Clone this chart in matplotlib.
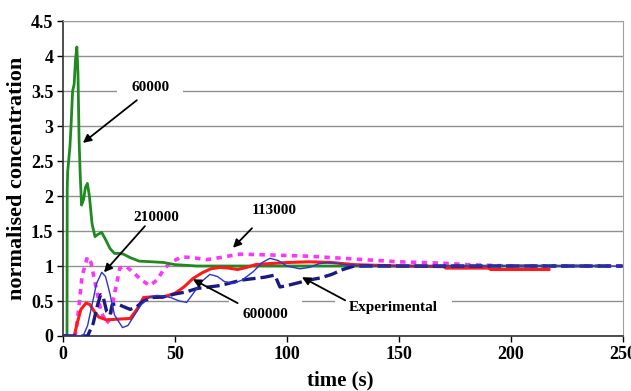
import matplotlib
matplotlib.use("Agg")
import matplotlib.pyplot as plt

plt.rcParams['font.family'] = ['Liberation Serif', 'DejaVu Serif']
plt.rcParams['font.weight'] = 'bold'

# ---- data ----
t_60000 = [0, 1.8, 1.9, 2.1, 3.1, 3.6, 4.3, 5.0, 5.6, 6.2, 6.7, 7.2, 7.7, 8.3, 9.2, 10.0, 10.9,
           11.8, 13.0, 14.3, 15.5, 17.3, 19.0, 21.0, 23.0, 25.0, 27.0, 30.0, 34.0, 40.0, 45.0,
           50.0, 60.0, 80, 100, 150, 200, 243]
c_60000 = [0, 0, 2.1, 2.35, 2.7, 3.0, 3.5, 3.6, 3.95, 4.13, 3.75, 2.8, 2.3, 1.87, 1.95, 2.12, 2.18,
           2.0, 1.6, 1.42, 1.45, 1.48, 1.38, 1.25, 1.18, 1.18, 1.17, 1.12, 1.07, 1.06, 1.05,
           1.02, 1.0, 1.0, 1.0, 1.0, 1.0, 1.0]

t_600000 = [0, 5, 6.5, 8, 10.3, 12, 14, 16, 19.5, 24, 30, 33, 36, 40, 44, 50, 54, 58, 62, 66,
            70, 74, 78, 82, 86, 90, 100, 110, 120, 130, 150, 170, 171, 190, 191, 217]
c_600000 = [0, 0, 0.2, 0.38, 0.47, 0.45, 0.35, 0.27, 0.23, 0.24, 0.25, 0.38, 0.55, 0.56, 0.55,
            0.61, 0.7, 0.82, 0.9, 0.96, 0.98, 0.97, 0.95, 0.98, 1.02, 1.03, 1.05, 1.06, 1.05,
            1.02, 1.0, 0.99, 0.97, 0.97, 0.95, 0.95]

t_210000 = [0, 9, 11, 13, 15, 17.3, 19, 21, 23, 26.6, 29, 32, 35, 38.8, 42, 45, 48, 52, 55.2,
            58, 62, 65.6, 69, 72, 76, 80, 85, 89, 92.4, 96, 100, 105.8, 110, 114, 118, 122,
            126, 135, 150, 200, 250]
c_210000 = [0, 0, 0.15, 0.45, 0.75, 0.91, 0.85, 0.6, 0.3, 0.12, 0.15, 0.3, 0.45, 0.56, 0.58,
            0.57, 0.55, 0.5, 0.48, 0.6, 0.78, 0.88, 0.85, 0.78, 0.75, 0.8, 0.92, 1.05, 1.11,
            1.08, 1.0, 0.96, 0.98, 1.03, 1.05, 1.04, 1.02, 1.0, 1.0, 1.0, 1.0]

t_113000 = [0, 5.5, 6.8, 8.5, 10.9, 12.5, 15, 17, 19.5, 21, 23, 25.4, 28, 31, 35, 38.8, 42, 45,
            48, 53, 58, 64, 70, 79, 90, 100, 110, 120, 130, 140, 150, 160, 170, 180, 200, 250]
c_113000 = [0, 0, 0.32, 0.85, 1.13, 1.05, 0.66, 0.35, 0.18, 0.25, 0.6, 0.97, 1.0, 0.92, 0.8,
            0.72, 0.8, 0.95, 1.05, 1.13, 1.12, 1.09, 1.12, 1.17, 1.16, 1.15, 1.14, 1.12, 1.10,
            1.08, 1.06, 1.05, 1.04, 1.02, 1.0, 1.0]

t_exp = [0, 11, 13.5, 15.5, 16.8, 18, 19.5, 21, 22, 24, 27, 30, 33, 36, 40, 45, 50, 55, 60,
         65, 70, 75, 80, 85, 90, 94.6, 96.9, 100, 105, 110, 115, 120, 125, 130, 150, 200, 250]
c_exp = [0, 0, 0.18, 0.45, 0.59, 0.55, 0.35, 0.3, 0.45, 0.46, 0.42, 0.38, 0.42, 0.5, 0.55,
         0.56, 0.6, 0.63, 0.68, 0.70, 0.72, 0.76, 0.8, 0.82, 0.84, 0.87, 0.70, 0.72, 0.76,
         0.80, 0.83, 0.88, 0.95, 1.0, 1.0, 1.0, 1.0]

x_ticks = [0, 50, 100, 150, 200, 250]
y_ticks = [0, 0.5, 1, 1.5, 2, 2.5, 3, 3.5, 4, 4.5]
y_tick_labels = ['0', '0.5', '1', '1.5', '2', '2.5', '3', '3.5', '4', '4.5']

# ---- figure ----
fig = plt.figure(figsize=(6.31, 3.91), dpi=100)
ax = fig.add_axes([0.0998, 0.1407, 0.8872, 0.8053])

ax.set_xlim(0, 250)
ax.set_ylim(0, 4.5)
ax.set_yticks(y_ticks)
ax.set_yticklabels(y_tick_labels)
ax.set_xticks(x_ticks)
ax.grid(axis='y', color='#909090', lw=1.0, zorder=0)
ax.set_axisbelow(True)

for s in ['top', 'right']:
    ax.spines[s].set_color('#a0a0a0')
for s in ['left', 'bottom']:
    ax.spines[s].set_color('#303030')
    ax.spines[s].set_linewidth(1.2)
ax.tick_params(direction='out', length=4, width=1, labelsize=13, pad=3)
for lab in ax.get_xticklabels() + ax.get_yticklabels():
    lab.set_fontweight('bold')

ax.plot(t_113000, c_113000, color='#ff33ff', lw=2.6, dashes=(1.5, 1.5), zorder=3)
ax.plot(t_60000, c_60000, color='#1f8a1f', lw=2.0, zorder=4)
ax.plot(t_600000, c_600000, color='#ff1a1a', lw=2.2, zorder=4)
ax.plot(t_exp, c_exp, color='#1a1a80', lw=2.4, dashes=(4, 1.5), zorder=5)
ax.plot(t_210000, c_210000, color='#2a35d0', lw=1.0, zorder=6)

ax.set_xlabel('time (s)', fontsize=15, fontweight='bold', va='center')
ax.set_ylabel('normalised concentration', fontsize=16, fontweight='bold', va='center')
ax.xaxis.set_label_coords(0.495, -0.14)
ax.yaxis.set_label_coords(-0.082, 0.5)

arrow = dict(arrowstyle='-|>', color='black', lw=1.3, mutation_scale=12, shrinkA=0, shrinkB=0)

labels = [
    ('60000', (39.0, 3.55), (33.0, 3.37), (8.9, 2.76), 0.9),
    ('210000', (41.8, 1.70), (36.6, 1.57), (18.3, 0.91), 0.3),
    ('113000', (94.3, 1.79), (84.4, 1.54), (75.9, 1.26), 0.3),
    ('600000', (90.6, 0.31), (78.0, 0.47), (58.0, 0.81), 0.9),
    ('Experimental', (147.5, 0.41), (126.0, 0.51), (106.7, 0.84), 0.9),
]
for txt, tpos, tail, head, pad in labels:
    ax.annotate('', xy=head, xytext=tail, arrowprops=arrow, zorder=8)
    ax.text(tpos[0], tpos[1], txt, fontsize=11, fontweight='bold', ha='center', va='center',
            bbox=dict(boxstyle='square,pad=%s' % pad, fc='white', ec='none'), zorder=7)

fig.savefig('out.png', dpi=100)
